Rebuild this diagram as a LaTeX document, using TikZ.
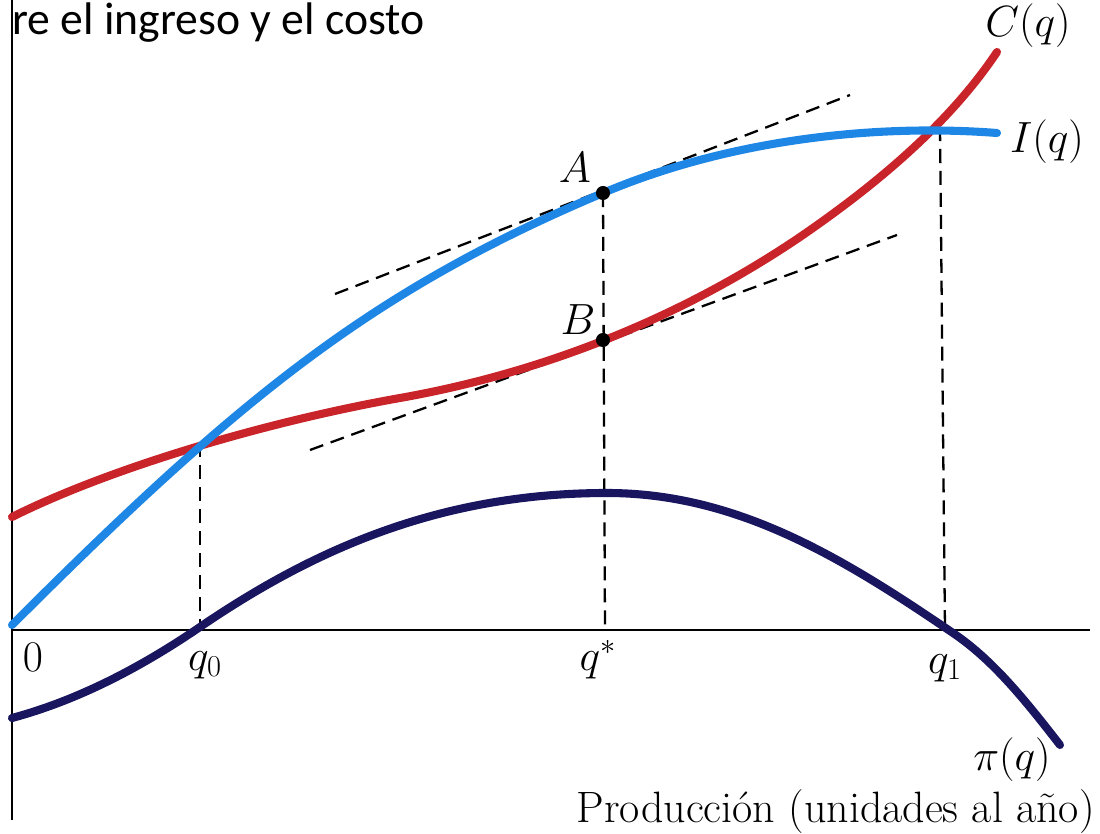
\documentclass[tikz,border=0pt]{standalone}
\usepackage{fontspec}
\newfontfamily\titlefont{Carlito}
\definecolor{ingreso}{RGB}{30,135,230}
\definecolor{costo}{RGB}{200,36,42}
\definecolor{beneficio}{RGB}{25,22,95}
\begin{document}
\begin{tikzpicture}
    [x=0.02cm,y=-0.02cm,
     curve/.style={line width=4.6pt,line cap=round},
     guide/.style={line width=1.3pt,dash pattern=on 8pt off 4.5pt},
     lbl/.style={font=\fontsize{23}{28}\selectfont,inner sep=0pt},
     dot/.style={circle,fill=black,inner sep=0pt,minimum size=8pt}]
    \useasboundingbox (0,0) rectangle (1100,834);
    % axes
    \coordinate (O) at (12,630);
    \coordinate (top) at (12,0);
    \coordinate (bot) at (12,820);
    \coordinate (end) at (1090,630);
    \draw[line width=1.1pt] (top) -- (bot);
    \draw[line width=1.1pt] (O) -- (end);
    % points on the curves and on the axis
    \coordinate (P0) at (200,443);
    \coordinate (P1) at (940,127);
    \coordinate (q0) at (200,630);
    \coordinate (qs) at (605,630);
    \coordinate (q1) at (945,630);
    \coordinate (tA1) at (335,294);
    \coordinate (tA2) at (850,95);
    \coordinate (tB1) at (310,450);
    \coordinate (tB2) at (897,235);
    \draw[guide] (P0) -- (q0);
    \draw[guide] (603,193) -- (qs);
    \draw[guide] (P1) -- (q1);
    \draw[guide] (tA1) -- (tA2);
    \draw[guide] (tB1) -- (tB2);
    % curves
    \draw[curve,costo] (12,517) .. controls (112,467) and (270,421) .. (400,398)
      .. controls (530,375) and (670,325) .. (800,237)
      .. controls (870,189) and (947,127) .. (997,52);
    \draw[curve,ingreso] (12,625) .. controls (242,395) and (373,290) .. (603,193)
      .. controls (733,138) and (880,124) .. (997,133);
    \draw[curve,beneficio] (12,718) .. controls (75,701) and (137,670) .. (200,627)
      .. controls (310,552) and (437,493) .. (607,493)
      .. controls (737,493) and (843,558) .. (953,633)
      .. controls (993,660) and (1025,700) .. (1060,745);
    \node[dot] (A) at (603,193) {};
    \node[dot] (B) at (603,340) {};
    % labels
    \node[lbl] (lA) at (575,168) {$A$};
    \node[lbl] (lB) at (578,320) {$B$};
    \node[lbl] (lC) at (1028,26) {$C(q)$};
    \node[lbl] (lI) at (1047,142) {$I(q)$};
    \node[lbl] (lP) at (1012,760) {$\pi(q)$};
    \node[lbl] (l0) at (33,657) {$0$};
    \node[lbl] (lq0) at (205,665) {$q_0$};
    \node[lbl] (lqs) at (598,660) {$q^*$};
    \node[lbl] (lq1) at (945,668) {$q_1$};
    \node[lbl,anchor=east,font=\fontsize{25}{30}\selectfont] (lx) at (1095,812)
      {Producción (unidades al año)};
    \node[inner sep=0pt,anchor=base west,font=\titlefont\fontsize{26}{31}\selectfont]
      (title) at (12,35) {re el ingreso y el costo};
\end{tikzpicture}
\end{document}
